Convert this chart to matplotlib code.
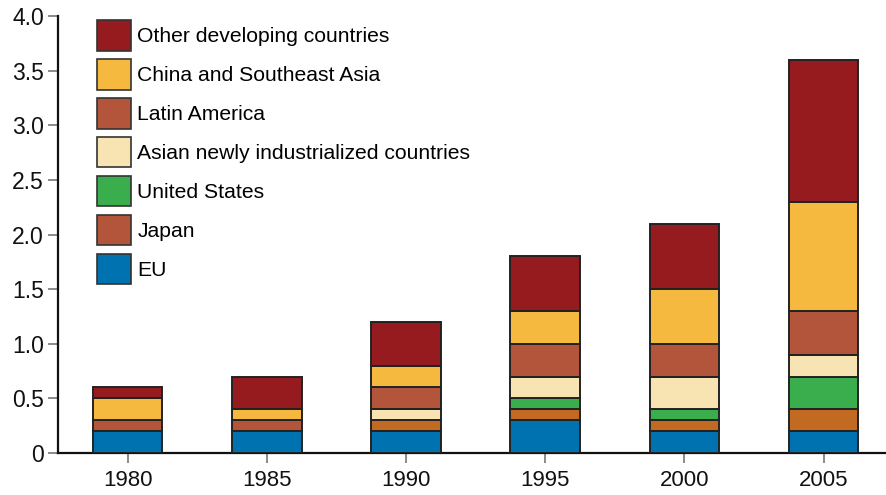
import matplotlib
matplotlib.use("Agg")
import matplotlib.pyplot as plt
from matplotlib.patches import Patch

plt.rcParams['font.family'] = ['Liberation Sans', 'DejaVu Sans']

years = ["1980", "1985", "1990", "1995", "2000", "2005"]

# stacked from the bottom up
eu = [0.2, 0.2, 0.2, 0.3, 0.2, 0.2]
japan = [0.0, 0.0, 0.1, 0.1, 0.1, 0.2]
us = [0.0, 0.0, 0.0, 0.1, 0.1, 0.3]
asian_nic = [0.0, 0.0, 0.1, 0.2, 0.3, 0.2]
latin_america = [0.1, 0.1, 0.2, 0.3, 0.3, 0.4]
china_sea = [0.2, 0.1, 0.2, 0.3, 0.5, 1.0]
other_dev = [0.1, 0.3, 0.4, 0.5, 0.6, 1.3]

series = [
    ("EU", eu, "#0072b0"),
    ("Japan", japan, "#c26a22"),
    ("United States", us, "#3aae4c"),
    ("Asian newly industrialized countries", asian_nic, "#f8e3b2"),
    ("Latin America", latin_america, "#b3553a"),
    ("China and Southeast Asia", china_sea, "#f4b93e"),
    ("Other developing countries", other_dev, "#951b1f"),
]
# the legend in the original shows Japan in the Latin America colour
legend_colors = {"Japan": "#b3553a"}

fig = plt.figure(figsize=(8.87, 4.95), dpi=100)
ax = fig.add_axes([58 / 887, 42 / 495, 829 / 887, 437 / 495])

x = list(range(len(years)))
bottom = [0.0] * len(years)
for name, vals, col in series:
    ax.bar(x, vals, width=0.5, bottom=bottom, color=col,
           edgecolor="#222222", linewidth=1.4, zorder=3)
    bottom = [b + v for b, v in zip(bottom, vals)]

ax.set_xlim(-0.5, 5.456)
ax.set_ylim(0, 4.0)
ax.set_xticks(x)
ax.set_xticklabels(years)
ax.set_yticks([0, 0.5, 1.0, 1.5, 2.0, 2.5, 3.0, 3.5, 4.0])
ax.set_yticklabels(["0", "0.5", "1.0", "1.5", "2.0", "2.5", "3.0", "3.5", "4.0"])

for s in ["top", "right"]:
    ax.spines[s].set_visible(False)
ax.spines["left"].set_linewidth(1.6)
ax.spines["bottom"].set_linewidth(1.6)
ax.spines["left"].set_color("#111111")
ax.spines["bottom"].set_color("#111111")
ax.tick_params(axis="both", labelsize=16.5, color="#777777", length=7,
               width=1.2, labelcolor="#111111")
ax.tick_params(axis="x", labelsize=16, pad=5)
ax.tick_params(axis="y", pad=3)

handles = []
for name, vals, col in reversed(series):
    handles.append(Patch(facecolor=legend_colors.get(name, col),
                         edgecolor="#333333", linewidth=1.2, label=name))
ax.legend(handles=handles, loc="upper left", bbox_to_anchor=(0.047, 0.99),
          frameon=False, fontsize=15.2, handlelength=1.61, handleheight=1.84,
          labelspacing=0.4, handletextpad=0.3, borderpad=0, borderaxespad=0)

fig.savefig("out.png", dpi=100)
